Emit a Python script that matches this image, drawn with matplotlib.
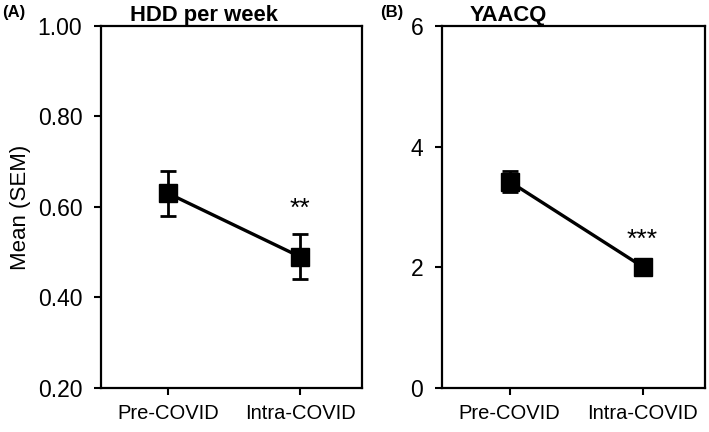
import matplotlib

matplotlib.use("Agg")
import matplotlib.pyplot as plt

plt.rcParams["font.family"] = ["Liberation Sans", "DejaVu Sans"]

# Edit here.
CATEGORIES = ["Pre-COVID", "Intra-COVID"]

HDD_MEAN = [0.63, 0.49]
HDD_SEM = [0.05, 0.05]
HDD_STARS = "**"
HDD_STAR_Y = 0.595

YAACQ_MEAN = [3.42, 2.01]
YAACQ_SEM = [0.17, 0.08]
YAACQ_STARS = "***"
YAACQ_STAR_Y = 2.45

HDD_YTICKS = [0.20, 0.40, 0.60, 0.80, 1.00]
YAACQ_YTICKS = [0, 2, 4, 6]

OUT = "out.png"
DPI = 100
FIGSIZE = (7.09, 4.32)
XTICK_FS = 14.5
YTICK_FS = 16.5
TITLE_FS = 15.8


def draw_panel(ax, means, sems, stars, star_y, yticks, fmt, title, title_x):
    xs = list(range(len(CATEGORIES)))
    ax.errorbar(
        xs,
        means,
        yerr=sems,
        color="black",
        marker="s",
        markersize=12.5,
        linewidth=2.4,
        elinewidth=2.0,
        capsize=5.5,
        capthick=2.0,
    )
    ax.text(xs[-1], star_y, stars, ha="center", va="center", fontsize=19)
    ax.set_xlim(-0.51, 1.47)
    ax.set_ylim(yticks[0], yticks[-1])
    ax.set_xticks(xs)
    ax.set_xticklabels(CATEGORIES, fontsize=XTICK_FS)
    ax.set_yticks(yticks)
    ax.set_yticklabels([fmt.format(v) for v in yticks], fontsize=YTICK_FS)
    for s in ax.spines.values():
        s.set_linewidth(1.6)
    ax.tick_params(direction="out", length=5, width=1.5)
    ax.tick_params(axis="y", pad=8.5)
    ax.tick_params(axis="x", pad=6.5)
    ax.set_title(title, fontsize=TITLE_FS, fontweight="bold", loc="left", x=title_x, pad=3)


def main():
    fig = plt.figure(figsize=FIGSIZE, dpi=DPI)
    ax1 = fig.add_axes([0.1425, 0.1019, 0.3681, 0.8379])
    ax2 = fig.add_axes([0.6234, 0.1019, 0.3710, 0.8379])

    draw_panel(ax1, HDD_MEAN, HDD_SEM, HDD_STARS, HDD_STAR_Y, HDD_YTICKS, "{:.2f}", "HDD per week", 0.11)
    draw_panel(ax2, YAACQ_MEAN, YAACQ_SEM, YAACQ_STARS, YAACQ_STAR_Y, YAACQ_YTICKS, "{:d}", "YAACQ", 0.105)

    ax1.set_ylabel("Mean (SEM)", fontsize=16, labelpad=5)

    fig.text(0.003, 0.972, "(A)", fontsize=12, fontweight="bold", va="center")
    fig.text(0.536, 0.972, "(B)", fontsize=12, fontweight="bold", va="center")

    fig.savefig(OUT, dpi=DPI)


if __name__ == "__main__":
    main()
